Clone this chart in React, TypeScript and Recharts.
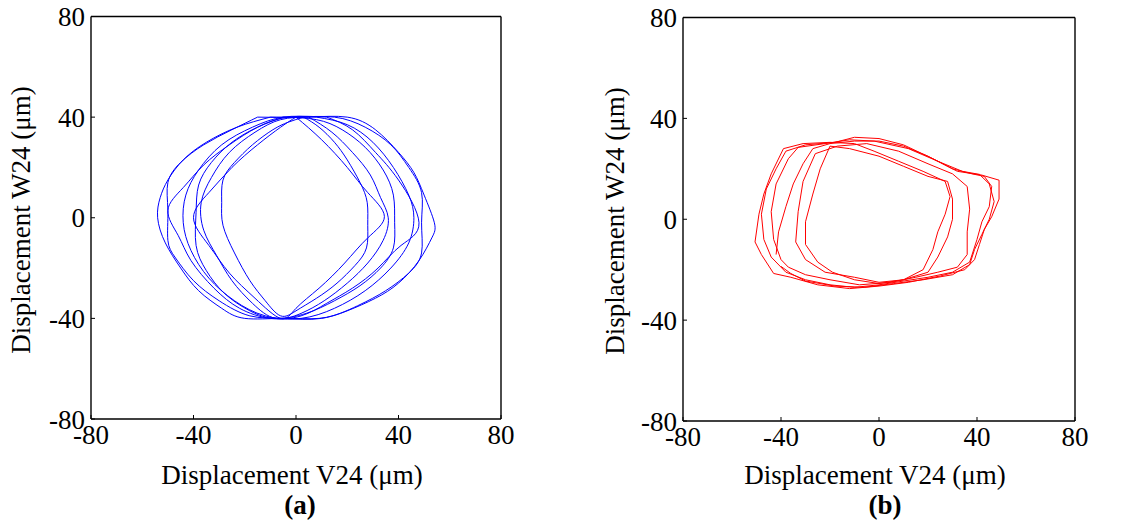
import React from 'react';
import { LineChart, Line, XAxis, YAxis } from 'recharts';

const FONT = '"Times New Roman", "Liberation Serif", serif';

const xTicks = [-80, -40, 0, 40, 80];
const yTicks = [-80, -40, 0, 40, 80];
const xTitle = 'Displacement V24 (μm)';
const yTitle = 'Displacement W24 (μm)';
const panelNames = ['(a)', '(b)'];

// ---- panel (a): blue orbits ----
const blueLoop1 = [
  [3, 40], [9, 36], [15, 30], [20, 23], [25, 14], [27.8, 6], [28, -3], [27.5, -12], [23, -19], [16, -26],
  [8, -32], [0, -37], [-6, -39], [-12, -33], [-18, -25], [-24, -14], [-28.5, -3], [-29, 6], [-28.5, 15],
  [-24, 22], [-17, 29], [-9, 35], [-3, 38], [3, 40],
];
const blueLoop2 = [
  [-5, 40], [8, 39], [18, 35], [27, 28], [34, 19], [38, 9], [38.5, -2], [38, -12], [33, -20], [25, -27],
  [15, -33], [4, -38], [-8, -40], [-18, -37], [-28, -30], [-35, -21], [-39, -11], [-39, 2], [-38, 13],
  [-33, 22], [-25, 30], [-15, 36], [-5, 40],
];
const blueLoop3 = [
  [0, 40], [10, 31], [20, 20], [28, 10], [34.5, 0.5], [28, -8], [19, -18], [9, -28], [0, -36], [-6, -40],
  [-16, -32], [-26, -22], [-34, -11], [-40, 0], [-34, 10], [-25, 20], [-15, 29], [-6, 36], [0, 40],
];
const blueLoop4 = [
  [12, 40], [22, 35], [31, 26], [40, 15], [48, -2], [41, -11], [32, -20], [22, -28], [12, -34], [2, -39],
  [-10, -40], [-22, -36], [-32, -28], [-41, -17], [-46, -7], [-50, 3], [-44, 12], [-36, 21], [-26, 29],
  [-15, 36], [-3, 40], [12, 40],
];
const blueLoop5 = [
  [-10, 40], [5, 40], [20, 40], [31, 35], [40, 26], [46, 18], [50, 9], [54, -2], [53, -8], [48, -17],
  [40, -26], [31, -32], [20, -37], [9, -40], [-5, -40], [-20, -40], [-29, -36], [-38, -29], [-45, -20],
  [-51, -10], [-54, 0], [-53, 8], [-50, 15], [-44, 23], [-35, 30], [-23, 36], [-10, 40],
];
const blueLoop6 = [
  [-15, 40], [0, 40], [15, 40], [27, 36], [37, 29], [44, 20], [49, 10], [49, -2], [49, -14], [44, -22],
  [35, -29], [24, -35], [10, -40], [-5, -40], [-18, -39], [-30, -33], [-40, -25], [-47, -16], [-50, -9],
  [-50, 3], [-50, 14], [-45, 22], [-36, 29], [-25, 35], [-15, 40],
];
const blueLoop7 = [
  [5, 40], [14, 34], [22, 26], [29, 17], [33, 8], [36, 0], [34, -9], [28, -18], [20, -26], [11, -33],
  [2, -38], [-8, -40], [-17, -34], [-25, -25], [-31, -15], [-36, -5], [-37, 6], [-33, 16], [-26, 26],
  [-16, 34], [-6, 39], [5, 40],
];
const blueLoop8 = [
  [8, 40], [20, 37], [30, 30], [38, 20], [44, 9], [46, 0], [44, -10], [37, -20], [27, -29], [15, -36],
  [2, -40], [-12, -39], [-24, -33], [-34, -24], [-41, -13], [-44, -2], [-43, 9], [-38, 19], [-29, 29],
  [-17, 36], [-5, 40], [8, 40],
];

// ---- panel (b): red orbit (one open path) ----
const redPath = [
  [-42, -14], [-41, -5], [-38, 5], [-35, 14], [-31, 22], [-27, 28], [-20, 30], [-10, 31], [0, 31], [10, 29],
  [20, 25], [30, 20], [38, 18], [43, 17], [46, 13], [45, 5], [42, -1], [40, -8], [37, -17], [30, -21],
  [20, -23], [10, -24.5], [0, -26], [-10, -27], [-20, -26], [-30, -24], [-38, -21], [-44, -15], [-47, -8],
  [-48, 2], [-46, 12], [-42, 20], [-38, 27], [-30, 29.5], [-18, 30.5], [-10, 32.5], [0, 32], [10, 29.5],
  [22, 24], [32, 19], [42, 17.5], [49, 15.5], [49, 8], [46, 1], [43, -4], [41, -10], [39, -16], [35, -20],
  [25, -22.5], [12, -25], [0, -26.5], [-12, -27.5], [-25, -26], [-36, -23], [-43, -21.5], [-48, -14],
  [-50.6, -9], [-49, 2], [-47, 10], [-44, 18], [-39, 28], [-31, 30], [-20, 30.5], [-10, 30], [-2, 27],
  [8, 23], [18, 19], [27, 15], [29, 9], [27, 2], [24, -5], [22, -12], [18, -20], [10, -24], [0, -25.5],
  [-10, -24], [-19, -21], [-25, -17], [-30, -10], [-30, -1], [-27, 10], [-24, 20], [-20, 29], [-12, 28],
  [0, 25], [10, 21], [20, 17], [28, 15], [30, 8], [30, 0], [28, -7], [24, -15], [20, -21], [10, -24],
  [0, -25], [-10, -23], [-22, -21], [-30, -16], [-34, -9], [-33, 3], [-31, 15], [-26, 26], [-17, 29],
  [-5, 30], [8, 27], [20, 22], [30, 18], [36, 13], [37, 4], [36, -5], [36, -14], [32, -19], [24, -21],
  [15, -23], [5, -25], [-8, -26], [-20, -24], [-30, -22], [-37, -19], [-40, -16], [-43, -8], [-44, 3],
  [-42, 14], [-37, 24], [-33, 28.5], [-22, 30], [-12, 31.5], [-2, 31], [12, 28], [24, 23], [34, 19],
  [41, 17.8], [45, 14], [47, 7], [45, 0], [42, -6], [39, -12], [37, -18], [30, -22], [18, -24], [6, -25.5],
  [-6, -27], [-18, -26.5], [-30, -24.5], [-36, -21.5], [-40, -18.7],
];

const toPts = (arr: number[][]) => arr.map(([x, y]) => ({ x, y }));

type PanelProps = {
  left: number;
  width: number;
  margin: { top: number; right: number; bottom: number; left: number };
  yAxisWidth: number;
  series: number[][][];
  color: string;
  curve: 'natural' | 'linear';
  name: string;
  xTitleX: number;
  nameX: number;
  yTitleX: number;
  yTitleY: number;
};

const tickStyle = { fill: '#000', fontSize: 27, fontFamily: FONT };
const axisLineStyle = { stroke: '#000', strokeWidth: 1.4 };
const tickLineStyle = { stroke: '#000', strokeWidth: 1 };

function Panel(p: PanelProps) {
  return (
    <div style={{ position: 'absolute', left: p.left, top: 0 }}>
      <LineChart width={p.width} height={527} margin={p.margin}>
        <XAxis
          type="number"
          dataKey="x"
          domain={[-80, 80]}
          ticks={xTicks}
          interval={0}
          allowDataOverflow
          height={1}
          tickSize={-4}
          tickMargin={10}
          tick={tickStyle}
          axisLine={axisLineStyle}
          tickLine={tickLineStyle}
          label={{
            content: () => (
              <g>
                <text x={p.xTitleX} y={484} textAnchor="middle" fontFamily={FONT} fontSize={27} fill="#000">
                  {xTitle}
                </text>
                <text x={p.nameX} y={514} textAnchor="middle" fontFamily={FONT} fontSize={27} fontWeight="bold" fill="#000">
                  {p.name}
                </text>
              </g>
            ),
          }}
        />
        <XAxis
          xAxisId="top"
          orientation="top"
          type="number"
          domain={[-80, 80]}
          ticks={xTicks}
          interval={0}
          allowDataOverflow
          height={1}
          tick={false}
          tickSize={-4}
          axisLine={axisLineStyle}
          tickLine={tickLineStyle}
        />
        <YAxis
          type="number"
          domain={[-80, 80]}
          ticks={yTicks}
          interval={0}
          allowDataOverflow
          width={p.yAxisWidth}
          tickSize={-4}
          tickMargin={10}
          tick={tickStyle}
          axisLine={axisLineStyle}
          tickLine={tickLineStyle}
          label={{
            content: () => (
              <text
                x={p.yTitleX}
                y={p.yTitleY}
                transform={`rotate(-90, ${p.yTitleX}, ${p.yTitleY})`}
                textAnchor="middle"
                fontFamily={FONT}
                fontSize={27}
                fill="#000"
              >
                {yTitle}
              </text>
            ),
          }}
        />
        <YAxis
          yAxisId="right"
          orientation="right"
          type="number"
          domain={[-80, 80]}
          ticks={yTicks}
          interval={0}
          allowDataOverflow
          width={1}
          tick={false}
          tickSize={-4}
          axisLine={axisLineStyle}
          tickLine={tickLineStyle}
        />
        {p.series.map((s, i) => (
          <Line
            key={i}
            data={toPts(s)}
            dataKey="y"
            type={p.curve}
            stroke={p.color}
            strokeWidth={1}
            dot={false}
            activeDot={false}
            isAnimationActive={false}
          />
        ))}
      </LineChart>
    </div>
  );
}

export default function App() {
  return (
    <div style={{ position: 'absolute', left: 0, top: 0, width: 1126, height: 527, background: '#fff' }}>
      <Panel
        left={0}
        width={520}
        margin={{ top: 15.5, right: 18, bottom: 107, left: 0 }}
        yAxisWidth={91}
        series={[blueLoop1, blueLoop2, blueLoop3, blueLoop4, blueLoop5, blueLoop6, blueLoop7, blueLoop8]}
        color="#0000ff"
        curve="natural"
        name={panelNames[0]}
        xTitleX={292}
        nameX={300}
        yTitleX={30}
        yTitleY={220}
      />
      <Panel
        left={560}
        width={566}
        margin={{ top: 16.5, right: 50, bottom: 105, left: 0 }}
        yAxisWidth={123}
        series={[redPath]}
        color="#ff0000"
        curve="linear"
        name={panelNames[1]}
        xTitleX={315}
        nameX={325}
        yTitleX={64}
        yTitleY={221}
      />
    </div>
  );
}
